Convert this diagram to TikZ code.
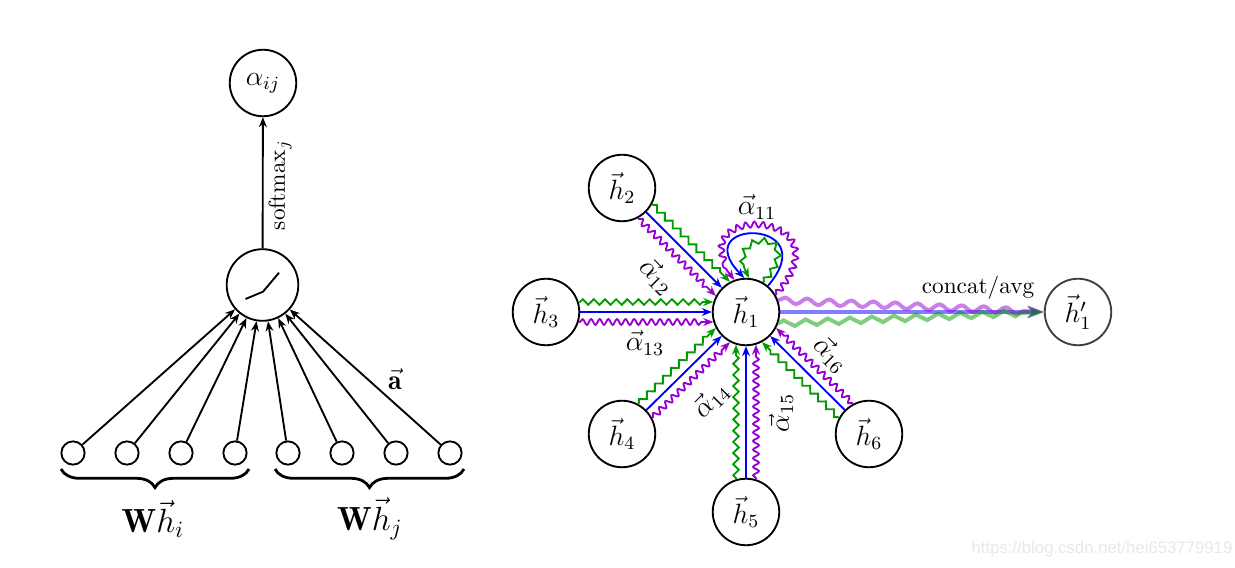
\documentclass[tikz,border=0pt]{standalone}
\usepackage{amsmath}
\usepackage{fontspec}
\usetikzlibrary{arrows.meta,decorations.pathmorphing,decorations.pathreplacing,calc}
\newfontfamily\wmfont{Liberation Sans}
\definecolor{gblue}{RGB}{0,0,255}
\definecolor{ggreen}{RGB}{0,155,0}
\definecolor{gviolet}{RGB}{150,0,210}
\begin{document}
\begin{tikzpicture}[x=0.43pt,y=-0.43pt,
  every node/.style={inner sep=0pt},
  big/.style={circle,draw,thick,minimum size=28.6pt,font=\large},
  small/.style={circle,draw,thick,minimum size=10pt},
  tip/.style={-{Stealth[length=4.3pt,width=3.4pt]}},
  arr/.style={thick,tip},
  snk/.style={thick,tip,decorate,decoration={snake,amplitude=1.25pt,segment length=3.7pt,post length=4.5pt,pre length=0.5pt}},
  zz/.style={thick,tip,decorate,decoration={zigzag,amplitude=1.2pt,segment length=4.8pt,post length=4.5pt,pre length=0.5pt}},
  bigtip/.style={-{Stealth[length=7pt,width=5pt]}},
  outline/.style={line width=1.7pt,opacity=0.5,bigtip},
  lbl/.style={font=\large}
]
\useasboundingbox (0,0) rectangle (1235,568);

% ---------- left part ----------
\node[big] (aij) at (263,83) {$\alpha_{ij}$};
\node[circle,draw,thick,minimum size=30.8pt] (act) at (262.5,285) {};
\draw[thick] ($(act)+(-17,14)$) -- ($(act)+(0.5,6.7)$) -- ($(act)+(16.5,-12.3)$);
\foreach \i/\x in {1/73,2/127,3/181,4/235,5/288,6/342,7/396,8/450}{
  \node[small] (s\i) at (\x,453) {};
  \draw[arr] (s\i) -- (act);
}
\draw[arr] (act) -- (aij);
\node[rotate=90] (sm) at (280,185) {$\mathrm{softmax}_j$};
\node[font=\large] (va) at (395,379) {$\vec{\mathbf{a}}$};
\draw[very thick,decorate,decoration={brace,mirror,amplitude=8pt}] (61,469) -- (249,469);
\draw[very thick,decorate,decoration={brace,mirror,amplitude=8pt}] (275,469) -- (464,469);
\node[font=\Large] (wi) at (153,519) {$\mathbf{W}\vec{h}_i$};
\node[font=\Large] (wj) at (370,519) {$\mathbf{W}\vec{h}_j$};

% ---------- right part ----------
\node[big] (h1) at (746,312) {$\vec{h}_1$};
\node[big] (h2) at (622,188) {$\vec{h}_2$};
\node[big] (h3) at (546,312) {$\vec{h}_3$};
\node[big] (h4) at (622,434) {$\vec{h}_4$};
\node[big] (h5) at (746,512) {$\vec{h}_5$};
\node[big] (h6) at (869,434) {$\vec{h}_6$};
\node[big,draw=black!75] (h1p) at (1078,312) {$\vec{h}'_1$};

\foreach \n/\t in {h2/135,h3/180,h4/225,h5/270,h6/315}{
  \pgfmathtruncatemacro\ga{mod(\t+180+17,360)}
  \pgfmathtruncatemacro\gb{mod(\t-17+360,360)}
  \pgfmathtruncatemacro\pa{mod(\t+180-17,360)}
  \pgfmathtruncatemacro\pb{mod(\t+17,360)}
  \draw[arr,gblue] (\n) -- (h1);
  \draw[zz,ggreen] (\n.\ga) -- (h1.\gb);
  \draw[snk,gviolet] (\n.\pa) -- (h1.\pb);
}

% self loop
\draw[arr,gblue] (h1.50) .. controls +(58,-68) and +(-58,-60) .. (h1.93);
\draw[zz,ggreen] (h1.60) .. controls +(50,-55) and +(-30,-50) .. (h1.85);
\draw[snk,gviolet] (h1.30) .. controls +(75,-88) and +(-65,-75) .. (h1.110);

% output
\draw[outline,gblue] (h1) -- (h1p);
\draw[outline,gviolet,decorate,decoration={snake,amplitude=1.3pt,segment length=9.5pt,post length=7pt}] (h1.20) -- (h1p.west);
\draw[outline,ggreen,decorate,decoration={zigzag,amplitude=1.3pt,segment length=9.5pt,post length=7pt}] (h1.-20) -- (h1p.west);
\node (ca) at (978,288) {concat/avg};

% labels
\node[lbl] (a11) at (757,207) {$\vec{\alpha}_{11}$};
\node[lbl,rotate=-45] (a12) at (657,276) {$\vec{\alpha}_{12}$};
\node[lbl] (a13) at (645,343) {$\vec{\alpha}_{13}$};
\node[lbl,rotate=45] (a14) at (711,400) {$\vec{\alpha}_{14}$};
\node[lbl,rotate=90] (a15) at (781,413) {$\vec{\alpha}_{15}$};
\node[lbl,rotate=-45] (a16) at (831,354) {$\vec{\alpha}_{16}$};

\node[font=\wmfont\fontsize{7.2}{8}\selectfont,text=black!9] (wm) at (1102,549) {https://blog.csdn.net/hei653779919};
\end{tikzpicture}
\end{document}
